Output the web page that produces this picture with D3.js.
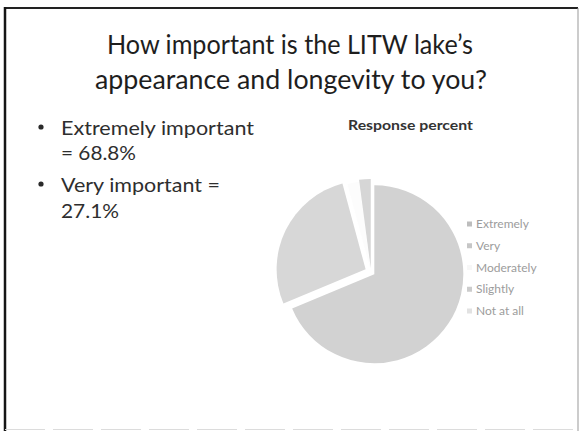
<!DOCTYPE html>
<html><head><meta charset="utf-8">
<script src="https://cdn.jsdelivr.net/npm/d3@7"></script>
<style>html,body{margin:0;padding:0;background:#fff;} svg{display:block;}</style>
</head><body>
<script>
// ---- data ----
const titleLines = ["How important is the LITW lake’s", "appearance and longevity to you?"];
const bulletItems = [["Extremely important", "= 68.8%"], ["Very important =", "27.1%"]];
const chartTitle = "Response percent";
const categories = ["Extremely", "Very", "Moderately", "Slightly", "Not at all"];
const responsePercent = [68.8, 27.1, 2.1, 2.1, 0];

// ---- style ----
const sliceColors = ["#d2d2d2", "#d7d7d7", "#fcfcfc", "#d6d6d6", "#eeeeee"];
const markerColors = ["#bdbdbd", "#c6c6c6", "#f7f7f7", "#cccccc", "#e2e2e2"];
const explode = [4, 6, 2, 4, 0];

const W = 581, H = 431;
const svg = d3.select("body").append("svg").attr("width", W).attr("height", H);
svg.append("rect").attr("width", W).attr("height", H).attr("fill", "#fff");

function fit(sel, target) {
  const len = sel.node().getComputedTextLength();
  if (Math.abs(len - target) > 1) sel.attr("textLength", target).attr("lengthAdjust", "spacingAndGlyphs");
}

// slide frame
svg.append("line").attr("x1", 4).attr("x2", 578).attr("y1", 8).attr("y2", 8).attr("stroke", "#222").attr("stroke-width", 2);
svg.append("line").attr("x1", 5).attr("x2", 5).attr("y1", 7).attr("y2", 431).attr("stroke", "#151515").attr("stroke-width", 2.5);
svg.append("line").attr("x1", 578).attr("x2", 578).attr("y1", 8).attr("y2", 431).attr("stroke", "#999").attr("stroke-width", 1);
svg.append("line").attr("x1", 5).attr("x2", 578).attr("y1", 429.5).attr("y2", 429.5).attr("stroke", "#dcdcdc").attr("stroke-width", 1).attr("stroke-dasharray", "40,8");

// title
const titleX = [107, 95], titleY = [54, 89], titleW = [366, 392];
titleLines.forEach((t, i) => {
  const s = svg.append("text").attr("x", titleX[i]).attr("y", titleY[i])
    .attr("font-family", "Lato, 'Open Sans', sans-serif").attr("font-size", 26.5)
    .attr("fill", "#1e1e1e").text(t);
  fit(s, titleW[i]);
});

// bullets
const lineY = [[135, 160], [192, 218]];
const lineW = [[193, 75], [159, 58]];
bulletItems.forEach((item, i) => {
  svg.append("circle").attr("cx", 41).attr("cy", lineY[i][0] - 8).attr("r", 2.6).attr("fill", "#2a2a2a");
  item.forEach((t, j) => {
    const s = svg.append("text").attr("x", 61).attr("y", lineY[i][j])
      .attr("font-family", "Lato, 'Open Sans', sans-serif").attr("font-size", 20)
      .attr("fill", "#2e2e2e").text(t);
    fit(s, lineW[i][j]);
  });
});

// chart title
const ct = svg.append("text").attr("x", 348).attr("y", 130)
  .attr("font-family", "Lato, 'Open Sans', sans-serif").attr("font-weight", "bold").attr("font-size", 14)
  .attr("fill", "#333").text(chartTitle);
fit(ct, 125);

// pie
const cx = 371, cy = 272, R = 89;
const pie = d3.pie().sort(null).value(d => d);
const arcs = pie(responsePercent);
const arc = d3.arc().innerRadius(0).outerRadius(R);
const g = svg.append("g").attr("transform", `translate(${cx},${cy})`);
g.selectAll("path").data(arcs).join("path")
  .attr("d", arc)
  .attr("fill", (d, i) => sliceColors[i])
  .attr("transform", (d, i) => {
    const a = (d.startAngle + d.endAngle) / 2;
    return `translate(${Math.sin(a) * explode[i]},${-Math.cos(a) * explode[i]})`;
  });

// legend
const legY = d3.scalePoint().domain(categories).range([224, 311]);
const leg = svg.append("g").selectAll("g").data(categories).join("g")
  .attr("transform", d => `translate(0,${legY(d)})`);
leg.append("rect").attr("x", 467).attr("y", -2.5).attr("width", 5).attr("height", 5)
  .attr("fill", (d, i) => markerColors[i]);
leg.append("text").attr("x", 476).attr("y", 0).attr("dy", "0.35em")
  .attr("font-family", "Lato, 'Open Sans', sans-serif").attr("font-size", 12)
  .attr("fill", "#9c9c9c").text(d => d);
</script>
</body></html>
